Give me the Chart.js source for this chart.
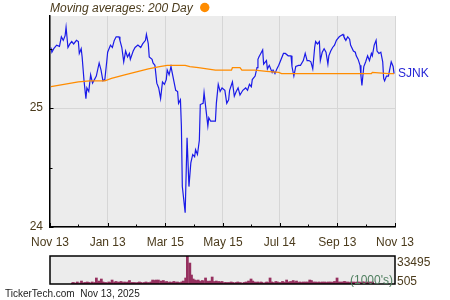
<!DOCTYPE html>
<html><head><meta charset="utf-8">
<script src="https://cdn.jsdelivr.net/npm/chart.js@4"></script>
<style>
html,body{margin:0;padding:0;background:#fff;}
#wrap{position:relative;width:450px;height:300px;overflow:hidden;}
#main{position:absolute;left:0;top:0;width:450px;height:250px;}
#vol{position:absolute;left:0;top:250px;width:450px;height:50px;}
</style></head><body>
<div id="wrap"><canvas id="main" width="450" height="250"></canvas><canvas id="vol" width="450" height="50"></canvas></div>
<script>
// ---- data (day offset from Nov 13, 2024) ----
const days = [
1,2,4,7,10,12,14,16,17,19,
21,23,25,28,30,31,33,34,36,38,
39,41,43,45,47,49,52,54,56,58,
60,61,64,66,68,70,73,74,76,78,
80,82,84,85,88,90,93,96,98,101,
102,104,105,108,109,111,113,115,117,119,
121,123,124,126,128,130,133,135,136,138,
139,140,143,145,147,149,151,153,154,156,
158,159,162,163,165,167,168,170,172,175,
176,178,180,182,185,187,189,190,193,195,
197,199,201,204,207,209,211,213,214,217,
219,220,221,223,225,226,229,230,232,235,
236,238,240,242,244,247,249,252,255,256,
258,260,263,265,268,270,272,274,276,278,
280,281,283,285,286,288,290,292,294,295,
297,299,301,303,304,306,308,310,311,313,
315,317,318,321,323,324,326,328,329,330,
331,332,334,336,338,340,341,343,345,346,
348,350,352,353,354,356,358,360,361,363,
364];
const prices = [
25.51,25.47,25.50,25.53,25.52,25.60,25.57,25.61,25.68,25.51,
25.54,25.56,25.54,25.57,25.56,25.46,25.50,25.43,25.23,25.08,
25.17,25.14,25.28,25.21,25.24,25.27,25.38,25.32,25.23,25.24,
25.39,25.47,25.53,25.51,25.57,25.60,25.60,25.57,25.51,25.39,
25.48,25.43,25.46,25.41,25.48,25.51,25.53,25.51,25.54,25.57,
25.62,25.54,25.43,25.41,25.38,25.36,25.21,25.17,25.08,25.22,
25.20,25.24,25.32,25.28,25.35,25.27,25.15,25.14,25.04,25.07,
24.85,24.34,24.12,24.75,24.34,24.54,24.61,24.59,24.65,24.61,
24.73,25.03,25.04,25.13,24.99,24.85,24.92,24.89,24.89,24.89,
25.04,25.20,25.14,25.17,25.15,25.04,25.07,25.15,25.22,25.10,
25.14,25.17,25.11,25.15,25.17,25.15,25.20,25.18,25.24,25.27,
25.34,25.41,25.43,25.46,25.49,25.37,25.40,25.33,25.36,25.30,
25.32,25.29,25.33,25.36,25.40,25.46,25.46,25.44,25.44,25.35,
25.27,25.35,25.36,25.36,25.40,25.46,25.40,25.40,25.39,25.33,
25.51,25.56,25.54,25.56,25.40,25.47,25.50,25.47,25.37,25.44,
25.48,25.51,25.53,25.57,25.58,25.60,25.61,25.62,25.60,25.57,
25.60,25.58,25.53,25.48,25.47,25.44,25.41,25.36,25.27,25.19,
25.27,25.35,25.39,25.44,25.40,25.46,25.44,25.53,25.57,25.48,
25.46,25.47,25.39,25.25,25.23,25.27,25.27,25.35,25.39,25.35,
25.29];
const volumes = [
1700,2300,1700,2900,1700,4000,1700,2300,1700,2900,
2300,1700,2900,2300,7600,2300,4000,2300,6400,2900,
1700,2300,1700,2900,2300,5200,2900,3450,2300,2900,
3450,2300,2900,2300,2900,4600,2300,1700,2300,1700,
2300,2900,2300,1700,2300,2900,2300,2900,5200,4600,
5200,4000,5200,4000,3450,4600,2900,3450,2300,2900,
2300,2900,3450,2300,2900,2300,2900,4000,3450,7600,
6400,33495,25200,11100,6400,5200,4600,5200,4000,3450,
4600,4000,7600,4000,3450,4000,2900,8750,3450,4000,
2900,3450,2900,3450,2300,2300,1700,2300,2900,2300,
1700,2300,2900,2300,1700,2300,2900,2300,4000,6400,
4000,2300,2900,2300,2900,2300,2900,2300,1700,2300,
2900,2300,7600,2900,2300,3450,2900,2300,3450,2900,
2300,5200,2900,3450,4600,2900,4000,2300,2900,2300,
2900,2300,2900,2300,2900,5200,4600,2900,2300,2900,
2300,2900,2300,2900,2300,2900,2300,2900,2300,2900,
2300,2900,3450,7600,2900,2300,2900,2300,2900,3450,
2900,2300,2900,2300,2900,2300,2900,2300,2900,2300,
2900,2300,2900,2300,2900,2300,2900,2300,2900,2300,
2900];
const maDays = [1,30,42,58,65,79,104,116,124,132,143,148,157,175,192,193,201,203,217,229,242,245,265,340,341,358,364];
const maValues = [25.18,25.22,25.23,25.23,25.25,25.28,25.33,25.35,25.36,25.36,25.36,25.35,25.34,25.32,25.32,25.34,25.34,25.32,25.32,25.31,25.30,25.29,25.29,25.29,25.30,25.29,25.29];
const xTickDays = [0,61,122,183,243,304,365];
const xTickLabels = ['Nov 13','Jan 13','Mar 15','May 15','Jul 14','Sep 13','Nov 13'];
const xMinorDays = [30,91,152,213,273,334];
const yTickValues = [24,25];
const yTickLabels = ['24','25'];
const yMinorValues = [24.5,25.5];
const volRange = [505,33495];
const symbol = 'SJNK';
const titleText = 'Moving averages: 200 Day';
const footerText = 'TickerTech.com  Nov 13, 2025';

// ---- styles ----
const FONT = '"Liberation Sans", Arial, sans-serif';
const TXT = '#4b3b1c';
Chart.defaults.font.family = FONT;
Chart.defaults.font.size = 12;
Chart.defaults.color = TXT;

const plotBg = {
  id: 'plotBg',
  beforeDraw(c) {
    const a = c.chartArea, ctx = c.ctx;
    ctx.save(); ctx.fillStyle = '#ececec';
    ctx.fillRect(a.left, a.top, a.right - a.left, a.bottom - a.top);
    ctx.restore();
  }
};

function seg(ctx, x1, y1, x2, y2) { ctx.beginPath(); ctx.moveTo(x1, y1); ctx.lineTo(x2, y2); ctx.stroke(); }

const mainDecor = {
  id: 'mainDecor',
  afterDraw(c) {
    const ctx = c.ctx, a = c.chartArea, xs = c.scales.x, ys = c.scales.y;
    ctx.save();
    ctx.strokeStyle = '#000'; ctx.lineWidth = 1;
    xTickDays.forEach(d => { const p = Math.round(xs.getPixelForValue(d)) + 0.5; seg(ctx, p, a.bottom, p, a.bottom - 4); });
    xMinorDays.forEach(d => { const p = Math.round(xs.getPixelForValue(d)) + 0.5; seg(ctx, p, a.bottom, p, a.bottom - 2.5); });
    yTickValues.forEach(v => { const p = Math.round(ys.getPixelForValue(v)) + 0.5; seg(ctx, a.left, p, a.left + 3.5, p); });
    yMinorValues.forEach(v => { const p = Math.round(ys.getPixelForValue(v)) + 0.5; seg(ctx, a.left, p, a.left + 2.5, p); });
    // title + marker
    ctx.font = 'italic 12px ' + FONT;
    ctx.fillStyle = TXT; ctx.textBaseline = 'middle'; ctx.textAlign = 'left';
    ctx.fillText(titleText, a.left, 8.5);
    const w = ctx.measureText(titleText).width;
    ctx.beginPath(); ctx.fillStyle = '#ff8c00';
    ctx.arc(a.left + w + 12, 7.5, 4.7, 0, Math.PI * 2); ctx.fill();
    // symbol label at the last price point
    const meta = c.getDatasetMeta(1);
    const last = meta.data[meta.data.length - 1];
    ctx.font = '12px ' + FONT; ctx.fillStyle = '#2626d6';
    ctx.fillText(symbol, a.right + 3, last.y);
    ctx.restore();
  }
};

new Chart(document.getElementById('main'), {
  type: 'line',
  data: {
    datasets: [
      { label: '200 Day', data: maDays.map((d, i) => ({ x: d, y: maValues[i] })), borderColor: '#ff8c00', borderWidth: 1.3, pointRadius: 0, tension: 0, fill: false, order: 0 },
      { label: symbol, data: days.map((d, i) => ({ x: d, y: prices[i] })), borderColor: '#1a1ae8', borderWidth: 1.2, pointRadius: 0, tension: 0, fill: false, order: 1 }
    ]
  },
  options: {
    responsive: false, animation: false,
    layout: { padding: { top: 16, right: 55, left: 0, bottom: 0 } },
    scales: {
      x: {
        type: 'linear', min: 0, max: 365,
        afterBuildTicks: s => { s.ticks = xTickDays.map(v => ({ value: v })); },
        afterFit: s => { s.height = 23; },
        ticks: { autoSkip: false, maxRotation: 0, padding: 8, color: TXT, font: { size: 12 }, callback: (v, i) => xTickLabels[i] },
        grid: { color: '#d6d6d6', lineWidth: 1, drawTicks: false },
        border: { color: '#000', width: 1.5 }
      },
      y: {
        min: 24, max: 25.775,
        afterBuildTicks: s => { s.ticks = yTickValues.map(v => ({ value: v })); },
        afterFit: s => { s.width = 50; },
        ticks: { padding: 7, color: TXT, font: { size: 12 }, callback: (v, i) => yTickLabels[i] },
        grid: { color: '#d6d6d6', lineWidth: 1, drawTicks: false },
        border: { color: '#000', width: 1.5 }
      }
    },
    plugins: { legend: { display: false }, tooltip: { enabled: false } }
  },
  plugins: [plotBg, mainDecor]
});

const volDecor = {
  id: 'volDecor',
  afterDraw(c) {
    const ctx = c.ctx, a = c.chartArea, ys = c.scales.y;
    ctx.save();
    ctx.strokeStyle = '#000'; ctx.lineWidth = 1.5;
    ctx.strokeRect(a.left, a.top, a.right - a.left, a.bottom - a.top);
    ctx.font = '12px ' + FONT; ctx.fillStyle = TXT; ctx.textBaseline = 'middle'; ctx.textAlign = 'left';
    ctx.fillText(String(ys.max), a.right + 2, ys.getPixelForValue(ys.max) + 7);
    ctx.fillText(String(ys.min), a.right + 2, ys.getPixelForValue(ys.min) - 2);
    ctx.textAlign = 'right'; ctx.fillStyle = '#4f7f5f';
    ctx.fillText("(1000's)", a.right - 2, a.bottom - 3.5);
    ctx.textAlign = 'left'; ctx.fillStyle = '#222'; ctx.font = '10px ' + FONT;
    ctx.fillText(footerText, 5, 44);
    ctx.restore();
  }
};

new Chart(document.getElementById('vol'), {
  type: 'bar',
  data: { datasets: [{ label: 'Volume', data: days.map((d, i) => ({ x: d, y: volumes[i] })), backgroundColor: '#96305f', borderWidth: 0, barThickness: 2.1 }] },
  options: {
    responsive: false, animation: false,
    layout: { padding: { left: 50, right: 55, top: 6, bottom: 16 } },
    scales: {
      x: { type: 'linear', min: 0, max: 365, display: false },
      y: { min: volRange[0], max: volRange[1], display: false }
    },
    plugins: { legend: { display: false }, tooltip: { enabled: false } }
  },
  plugins: [plotBg, volDecor]
});
</script>
</body></html>
